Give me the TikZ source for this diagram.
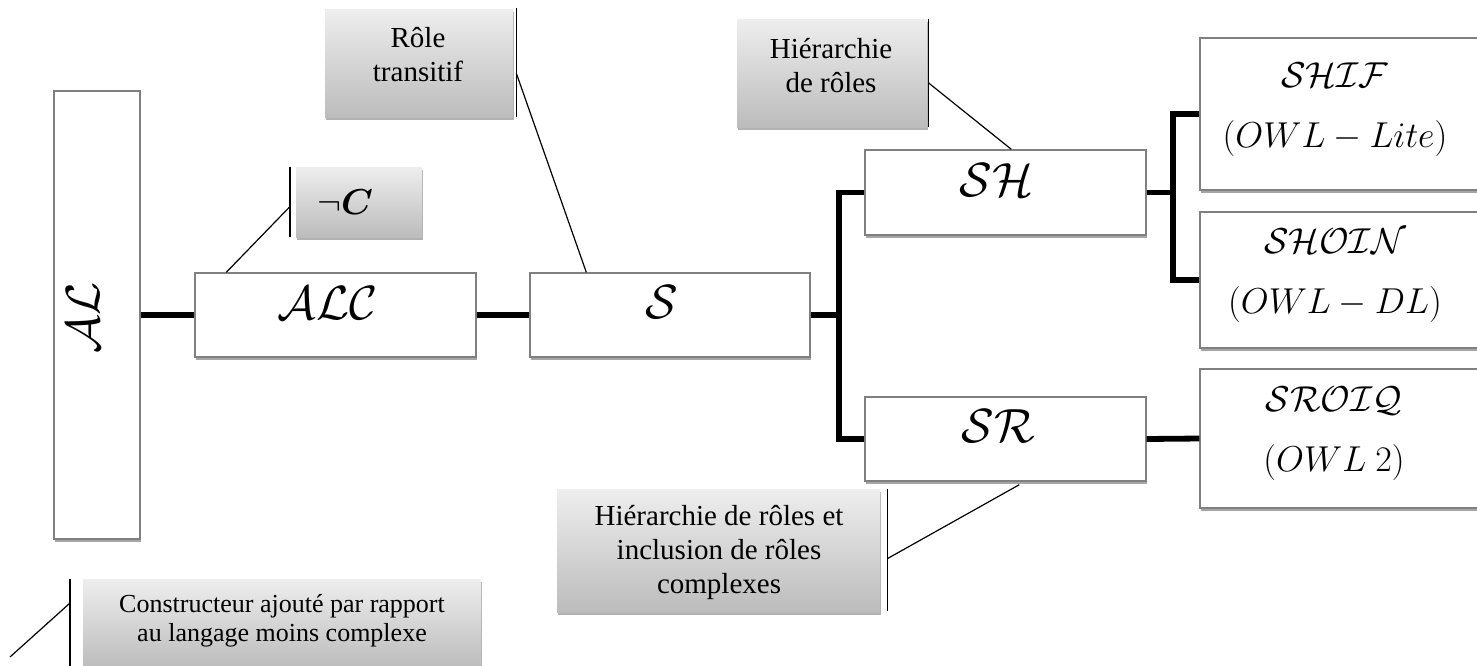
\RequirePackage{fix-cm}
\documentclass[tikz,border=0pt]{standalone}
\usepackage{amsmath}
\usepackage{fontspec}
\setmainfont{Liberation Serif}
\usetikzlibrary{shadows,calc}

\definecolor{boxline}{RGB}{128,128,128}
\definecolor{calltop}{RGB}{238,238,238}
\definecolor{callbot}{RGB}{188,188,188}

\tikzset{
  mainbox/.style={draw=boxline, line width=0.7pt, fill=white, inner sep=0pt,
    drop shadow={shadow xshift=0.7pt, shadow yshift=-1.3pt, opacity=0.35, fill=black}},
  callout/.style={draw=none, inner sep=0pt, top color=calltop, bottom color=callbot,
    drop shadow={shadow xshift=0.6pt, shadow yshift=-1.3pt, opacity=0.3, fill=black}},
  dlname/.style={inner sep=0pt, font=\fontsize{24}{28}\selectfont},
  dlpair/.style={inner sep=0pt, align=center, font=\fontsize{18}{30}\selectfont},
  note/.style={inner sep=0pt, align=center, font=\fontsize{14.5}{17}\selectfont},
  smallnote/.style={inner sep=0pt, align=center, font=\fontsize{13}{14.5}\selectfont},
  link/.style={line width=2.9pt, line join=miter},
  bar/.style={line width=0.9pt},
  leader/.style={line width=0.6pt}
}

\begin{document}
\begin{tikzpicture}[x=0.5pt, y=-0.5pt]
\useasboundingbox (0,0) rectangle (1477,665);

% description-logic boxes
\node[mainbox, minimum width=43pt,  minimum height=224pt]  (al)    at (97,315)    {};
\node[mainbox, minimum width=140.5pt, minimum height=42pt] (alc)   at (335.5,315) {};
\node[mainbox, minimum width=140pt, minimum height=42pt]   (s)     at (670,315)   {};
\node[mainbox, minimum width=140.5pt, minimum height=42.5pt] (sh)  at (1005.5,192.5) {};
\node[mainbox, minimum width=140.5pt, minimum height=42pt] (sr)    at (1005.5,439) {};
\node[mainbox, minimum width=142pt, minimum height=76pt]   (shif)  at (1342,114)  {};
\node[mainbox, minimum width=142pt, minimum height=68pt]   (shoin) at (1342,280)  {};
\node[mainbox, minimum width=142pt, minimum height=69.5pt] (sroiq) at (1342,438.5) {};

% box labels
\node[dlname, rotate=90] (al-txt) at ($(al.center)+(-14,3)$) {$\mathcal{AL}$};
\node[dlname] (alc-txt) at ($(alc.center)+(-8,-12)$) {$\mathcal{ALC}$};
\node[dlname] (s-txt)   at ($(s.center)+(-8,-13)$)   {$\mathcal{S}$};
\node[dlname] (sh-txt)  at ($(sh.center)+(-9,-12)$)  {$\mathcal{SH}$};
\node[dlname] (sr-txt)  at ($(sr.center)+(-7,-13)$)  {$\mathcal{SR}$};
\node[dlpair] (shif-txt)  at (1335,110) {$\mathcal{SHIF}$\\$(OWL-Lite)$};
\node[dlpair] (shoin-txt) at (1335,276) {$\mathcal{SHOIN}$\\$(OWL-DL)$};
\node[dlpair] (sroiq-txt) at (1334,434) {$\mathcal{SROIQ}$\\$(OWL\ 2)$};

% thick connectors
\draw[link] (al.east) -- (alc.west);
\draw[link] (alc.east) -- (s.west);
\draw[link] (s.east) -- ++(28,0);
\draw[link] (sh.west) -| ($(s.east)+(28,0)$) |- (sr.west);
\draw[link] (sh.east) -- ++(26,0);
\draw[link] (shif.west) -| ($(sh.east)+(26,0)$) |- (shoin.west);
\draw[link] (sr.east) -- (sroiq.west);

% callouts
\node[callout, minimum width=63pt,   minimum height=35pt]   (neg)     at (359,202)   {};
\node[callout, minimum width=94pt,   minimum height=54pt]   (role)    at (419,63)    {};
\node[callout, minimum width=95pt,   minimum height=54pt]   (hier)    at (832,73)    {};
\node[callout, minimum width=161.5pt, minimum height=61.5pt] (hierinc) at (718.5,550.5) {};
\node[callout, minimum width=199pt,  minimum height=44.5pt] (cons)    at (282,623.5) {};

\node[inner sep=0pt, font=\fontsize{18}{21}\selectfont] (neg-txt) at (345,202) {$\neg\boldsymbol{C}$};
\node[note] (role-txt) at (418,55) {Rôle\\transitif};
\node[note] (hier-txt) at (831,66) {Hiérarchie\\de rôles};
\node[note] (hierinc-txt) at (719,552) {Hiérarchie de rôles et\\inclusion de rôles\\complexes};
\node[smallnote] (cons-txt) at (282,621) {Constructeur ajouté par rapport\\au langage moins complexe};

% callout bars and leader lines
\draw[bar] ($(neg.north west)+(-6,0)$) coordinate (negbar-a) -- ($(neg.south west)+(-6,0)$) coordinate (negbar-b);
\draw[leader] ($(negbar-a)!0.57!(negbar-b)$) -- ($(alc.north west)+(32,0)$);

\draw[bar] ($(role.north east)+(3,-1)$) coordinate (rolebar-a) -- ($(role.south east)+(3,0)$) coordinate (rolebar-b);
\draw[leader] ($(rolebar-a)!0.6!(rolebar-b)$) -- ($(s.north west)+(57,0)$);

\draw[bar] ($(hier.north east)+(1,0)$) coordinate (hierbar-a) -- ($(hier.south east)+(1,0)$) coordinate (hierbar-b);
\draw[leader] ($(hierbar-a)!0.59!(hierbar-b)$) -- ($(sh.north west)+(147,0)$);

\draw[bar] ($(hierinc.north east)+(7,0)$) coordinate (hibar-a) -- ($(hierinc.south east)+(7,-1)$) coordinate (hibar-b);
\draw[leader] ($(hibar-a)!0.57!(hibar-b)$) -- ($(sr.south west)+(155,3)$);

\draw[bar] ($(cons.north west)+(-13,0)$) coordinate (consbar-a) -- ($(cons.south west)+(-13,2)$) coordinate (consbar-b);
\coordinate (cons-tail) at (10,657);
\draw[leader] ($(consbar-a)!0.27!(consbar-b)$) -- (cons-tail);
\end{tikzpicture}
\end{document}
